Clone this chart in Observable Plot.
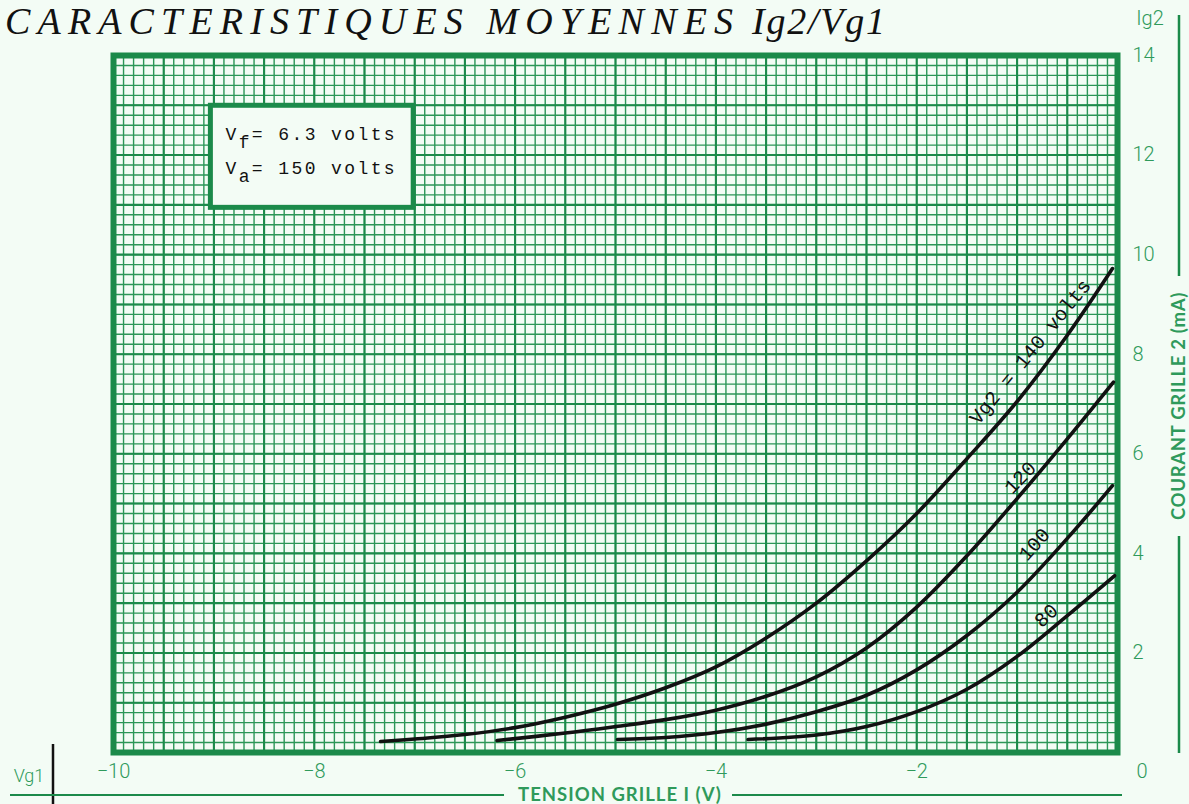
<!DOCTYPE html>
<html><head><meta charset="utf-8">
<script src="https://cdn.jsdelivr.net/npm/d3@7"></script>
<script src="https://cdn.jsdelivr.net/npm/@observablehq/plot@0.6"></script>
<style>
html,body{margin:0;padding:0;background:#f3fcf5;}
#chart{position:relative;width:1189px;height:804px;overflow:hidden;}
</style></head><body><div id="chart"></div>
<script>
// ---- data (Vg1 in volts, Ig2 in mA) ----
const vg2Values = [140, 120, 100, 80];
const vg1_140 = [-7.34,-7.0,-6.5,-6.0,-5.5,-5.0,-4.5,-4.0,-3.5,-3.0,-2.5,-2.0,-1.5,-1.0,-0.5,-0.05];
const ig2_140 = [0.22,0.27,0.36,0.50,0.71,0.97,1.30,1.72,2.30,3.00,3.85,4.80,5.90,7.05,8.38,9.72];
const vg1_120 = [-6.18,-5.5,-5.0,-4.5,-4.0,-3.5,-3.0,-2.5,-2.0,-1.5,-1.0,-0.5,-0.04];
const ig2_120 = [0.24,0.39,0.52,0.66,0.85,1.13,1.52,2.10,2.92,3.95,5.10,6.30,7.44];
const vg1_100 = [-4.98,-4.5,-4.0,-3.5,-3.0,-2.5,-2.0,-1.5,-1.0,-0.5,-0.05];
const ig2_100 = [0.26,0.30,0.40,0.57,0.82,1.15,1.66,2.35,3.22,4.30,5.36];
const vg1_80 = [-3.68,-3.0,-2.5,-2.0,-1.5,-1.0,-0.5,-0.03];
const ig2_80 = [0.26,0.35,0.52,0.82,1.27,1.93,2.75,3.55];
const xTicks = [-10,-8,-6,-4,-2];
const yTicks = [2,4,6,8,10,12,14];
const curveLabels = ["Vg2 = 140 volts", "120", "100", "80"];
const labelVg1 = [-0.87, -0.97, -0.83, -0.71];
const labelIg2 = [8.05, 5.52, 4.18, 2.75];
const labelAngle = [-51, -46, -48, -42];
const titleWords = "CARACTERISTIQUES MOYENNES";
const titleSymbol = "Ig2/Vg1";
const conditions = [["V","f","= 6.3 volts"],["V","a","= 150 volts"]];
const xAxisTitle = "TENSION GRILLE I (V)";
const yAxisTitle = "COURANT GRILLE 2 (mA)";

// ---- build tables ----
const series = [[vg1_140, ig2_140], [vg1_120, ig2_120], [vg1_100, ig2_100], [vg1_80, ig2_80]];
const rows = series.flatMap(([xs, ys], i) => xs.map((x, j) => ({vg2: vg2Values[i], vg1: x, ig2: ys[j]})));
const labels = curveLabels.map((t, i) => ({text: t, x: labelVg1[i], y: labelIg2[i], a: labelAngle[i]}));

const green = "#1b8a4a", gridGreen = "#2b9657", textGreen = "#2f9a5b", bg = "#f3fcf5";
const xMinor = d3.range(-100, 1).map(d => d / 10);
const yMinor = d3.range(0, 71).map(d => d / 5);
const xMid = xMinor.filter((d, i) => i % 5 === 0);
const yMid = yMinor.filter((d, i) => i % 5 === 0);
const minus = d => d < 0 ? "\u2212" + (-d) : String(d);

const plot = Plot.plot({
  width: 1189, height: 804,
  marginLeft: 113, marginRight: 72, marginTop: 55, marginBottom: 52,
  x: {domain: [-10, 0]},
  y: {domain: [0, 14]},
  style: {background: bg, fontFamily: "Roboto, sans-serif"},
  marks: [
    Plot.ruleX(xMinor, {stroke: gridGreen, strokeWidth: 1.4}),
    Plot.ruleY(yMinor, {stroke: gridGreen, strokeWidth: 1.4}),
    Plot.ruleX(xMid, {stroke: green, strokeWidth: 2.1}),
    Plot.ruleY(yMid, {stroke: green, strokeWidth: 2.1}),
    Plot.frame({stroke: green, strokeWidth: 6}),
    Plot.line(rows, {x: "vg1", y: "ig2", z: "vg2", stroke: "#111", strokeWidth: 3.6, curve: "catmull-rom"}),
    Plot.text(labels, {x: "x", y: "y", text: "text", rotate: "a", fontSize: 20, fontFamily: "Liberation Mono, monospace", fill: "#111"}),
    Plot.axisX({ticks: xTicks, tickSize: 0, tickPadding: 11, tickFormat: minus, fontSize: 20, fontWeight: 300, color: textGreen}),
    Plot.axisY({anchor: "right", ticks: yTicks, tickSize: 0, tickPadding: 15, fontSize: 20, fontWeight: 300, color: textGreen})
  ]
});
document.getElementById("chart").appendChild(plot);

const svg = d3.select(plot);
const X = plot.scale("x"), Y = plot.scale("y");
const x0 = X.apply(0), yBase = Y.apply(0), yTop = Y.apply(14);

// title
const titleY = 34;
svg.append("text").attr("x", 5).attr("y", titleY).attr("text-anchor", "start")
  .attr("font-family", "Liberation Serif, serif").attr("font-style", "italic")
  .attr("font-size", 38).attr("fill", "#111")
  .attr("textLength", 728).attr("lengthAdjust", "spacing")
  .text(titleWords);
svg.append("text").attr("x", 752).attr("y", titleY).attr("text-anchor", "start")
  .attr("font-family", "Liberation Serif, serif").attr("font-style", "italic")
  .attr("font-size", 38).attr("fill", "#111")
  .attr("textLength", 133).attr("lengthAdjust", "spacing")
  .text(titleSymbol);

// conditions box
const bx1 = X.apply(-9.03), bx2 = X.apply(-7.01), by1 = Y.apply(12.99), by2 = Y.apply(10.94);
svg.append("rect").attr("x", bx1).attr("y", by1).attr("width", bx2 - bx1).attr("height", by2 - by1)
  .attr("fill", bg).attr("stroke", green).attr("stroke-width", 5);
conditions.forEach((c, i) => {
  const t = svg.append("text").attr("text-anchor", "start")
    .attr("x", X.apply(-8.88)).attr("y", Y.apply(12.3 - i * 0.7))
    .attr("font-family", "Liberation Mono, monospace").attr("font-size", 18)
    .attr("letter-spacing", 2.4).attr("fill", "#111");
  t.append("tspan").text(c[0]);
  t.append("tspan").attr("dy", 8).text(c[1]);
  t.append("tspan").attr("dy", -8).text(c[2]);
});

// zero label at corner, Ig2 label, Vg1 label
svg.append("text").attr("x", x0 + 25).attr("y", yBase + 26).attr("text-anchor", "middle")
  .attr("font-size", 20).attr("font-weight", 300).attr("fill", textGreen).text("0");
svg.append("text").attr("x", x0 + 33).attr("y", yTop - 30).attr("text-anchor", "middle")
  .attr("font-size", 20).attr("font-weight", 300).attr("fill", textGreen).text("Ig2");
svg.append("text").attr("x", 29).attr("y", yBase + 30).attr("text-anchor", "middle")
  .attr("font-size", 18).attr("font-weight", 300).attr("fill", textGreen).text("Vg1");
svg.append("line").attr("x1", 53).attr("x2", 53).attr("y1", yBase - 8).attr("y2", 804)
  .attr("stroke", "#111").attr("stroke-width", 2.5);

// right vertical axis title with line
const rx = x0 + 62, yMidPx = (Y.apply(7.0) + Y.apply(6.9)) / 2;
svg.append("text").attr("transform", `translate(${rx + 6},${yMidPx}) rotate(-90)`)
  .attr("text-anchor", "middle").attr("font-family", "Lato, sans-serif").attr("font-weight", 700)
  .attr("font-size", 18.5).attr("letter-spacing", 0.7).attr("fill", textGreen).text(yAxisTitle);
svg.append("line").attr("x1", rx).attr("x2", rx).attr("y1", 15).attr("y2", yMidPx - 130)
  .attr("stroke", green).attr("stroke-width", 2.5);
svg.append("line").attr("x1", rx).attr("x2", rx).attr("y1", yMidPx + 130).attr("y2", yBase + 1)
  .attr("stroke", green).attr("stroke-width", 2.5);

// bottom axis title with line
const bx = X.apply(-4.95), by = 795;
svg.append("text").attr("x", bx).attr("y", by + 6).attr("text-anchor", "middle")
  .attr("font-family", "Lato, sans-serif").attr("font-weight", 700)
  .attr("font-size", 18.5).attr("letter-spacing", 1).attr("fill", textGreen).text(xAxisTitle);
svg.append("line").attr("x1", 10).attr("x2", bx - 116).attr("y1", by).attr("y2", by)
  .attr("stroke", green).attr("stroke-width", 2);
svg.append("line").attr("x1", bx + 112).attr("x2", x0 + 5).attr("y1", by).attr("y2", by)
  .attr("stroke", green).attr("stroke-width", 2);
</script></body></html>
